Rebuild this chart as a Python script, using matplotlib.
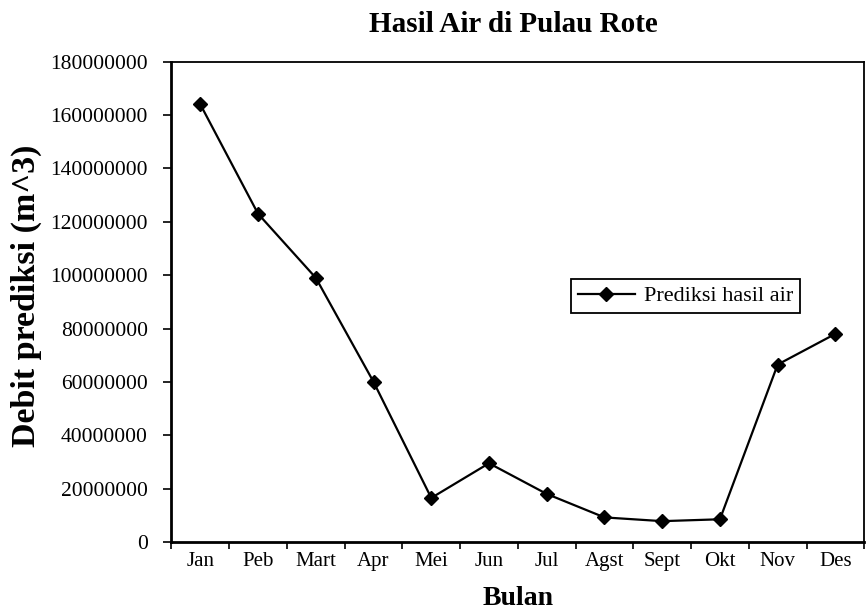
import matplotlib
matplotlib.use("Agg")
import matplotlib.pyplot as plt
import numpy as np

bulan = ["Jan", "Peb", "Mart", "Apr", "Mei", "Jun", "Jul", "Agst", "Sept", "Okt", "Nov", "Des"]
debit = [164000000, 123000000, 99000000, 60000000, 16500000, 29500000,
         18000000, 9200000, 7800000, 8500000, 66500000, 78000000]
y_ticks = [0, 20000000, 40000000, 60000000, 80000000, 100000000,
           120000000, 140000000, 160000000, 180000000]

plt.rcParams['font.family'] = ['Liberation Serif', 'DejaVu Serif']

fig = plt.figure(figsize=(8.66, 6.11), dpi=100)
ax = fig.add_axes([0.198, 0.113, 0.800, 0.786])

x = np.arange(len(bulan))
ax.plot(x, debit, color='black', lw=1.6, marker='D', markersize=7,
        label="Prediksi hasil air")

ax.set_xlim(-0.5, len(bulan) - 0.5)
ax.set_ylim(0, 180000000)
ax.set_yticks(y_ticks)
ax.set_yticklabels([str(v) for v in y_ticks], fontsize=15.5)

# ticks sit between categories, labels centred on them
ax.set_xticks(np.arange(len(bulan) + 1) - 0.5)
ax.set_xticklabels([])
ax.set_xticks(x, minor=True)
ax.set_xticklabels(bulan, minor=True, fontsize=15)
ax.tick_params(axis='x', which='minor', length=0, pad=7)
ax.tick_params(axis='x', which='major', direction='out', length=5, width=1.2)
ax.tick_params(axis='y', direction='out', length=6, width=1.2, pad=11)

for s in ['left', 'bottom']:
    ax.spines[s].set_linewidth(2)
for s in ['top', 'right']:
    ax.spines[s].set_linewidth(1.3)

fig.text(513 / 866, 1 - 24 / 611, "Hasil Air di Pulau Rote", fontsize=21,
         fontweight='bold', ha='center', va='center')
ax.set_xlabel("Bulan", fontsize=20, fontweight='bold')
ax.xaxis.set_label_coords(0.501, -0.092)
ax.set_ylabel("Debit prediksi (m^3)", fontsize=24.5, fontweight='bold')
ax.yaxis.set_label_coords(-0.187, 0.512)

leg = ax.legend(loc='center', bbox_to_anchor=(0.742, 0.512), fontsize=16,
                fancybox=False, framealpha=1, edgecolor='black',
                handlelength=2.6, borderpad=0.3, handletextpad=0.4)
leg.get_frame().set_linewidth(1.3)

fig.savefig("out.png", dpi=100)
